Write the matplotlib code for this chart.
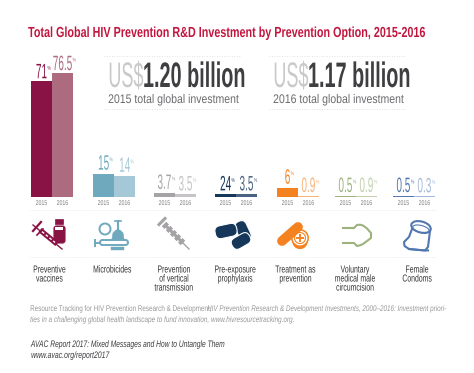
import matplotlib
matplotlib.use('Agg')
import matplotlib.pyplot as plt
from matplotlib.patches import Circle, Ellipse, FancyBboxPatch, Polygon, Rectangle
from matplotlib.patheffects import AbstractPathEffect
from matplotlib.text import Text
from matplotlib.transforms import Affine2D, Bbox

W, H = 474, 373
BASE_Y = 197.3
PX_PER_PCT = 1.63
BAR_W = 21
FONT = ['Liberation Sans', 'DejaVu Sans']

categories = ['Preventive\nvaccines', 'Microbicides', 'Prevention\nof vertical\ntransmission',
              'Pre-exposure\nprophylaxis', 'Treatment as\nprevention',
              'Voluntary\nmedical male\ncircumcision', 'Female\nCondoms']
# bar heights as they are drawn in the picture, not always what the label says
bars_2015 = [71.5, 14.5, 2.7, 1.8, 5.9, 0.8, 0.8]
bars_2016 = [76.5, 13.2, 1.8, 1.8, 0.8, 0.8, 0.6]
labels_2015 = ['71', '15', '3.7', '24', '6', '0.5', '0.5']
labels_2016 = ['76.5', '14', '3.5', '3.5', '0.9', '0.9', '0.3']
colors_2015 = ['#8a1346', '#6fa9bd', '#a5a3a6', '#14375a', '#f58220', '#9db27c', '#5277b0']
colors_2016 = ['#ad6b80', '#a5c8d6', '#c6c4c6', '#4a6380', '#f7b27a', '#c3d0ad', '#a6bbdb']
group_left = [31, 93, 154, 215, 277, 335, 393]
label_x = [49.5, 112, 174, 235, 295.5, 355, 417]


class Squeeze(AbstractPathEffect):
    # no condensed font installed, so squeeze the glyphs sideways
    def __init__(self, sx, ha):
        super().__init__()
        self.sx = sx
        self.ha = ha

    def draw_path(self, renderer, gc, tpath, affine, rgbFace=None):
        box = tpath.get_extents()
        mid = box.x0 if self.ha == 'left' else (box.x0 + box.x1) / 2
        tr = Affine2D().translate(-mid, 0).scale(self.sx, 1).translate(mid, 0)
        renderer.draw_path(gc, tpath, tr + affine, rgbFace)


class NarrowText(Text):
    def __init__(self, x, y, s, sx, **kw):
        self.sx = sx
        super().__init__(x, y, s, **kw)
        self.set_path_effects([Squeeze(sx, kw.get('ha', 'left'))])

    def get_window_extent(self, renderer=None, dpi=None):
        bb = super().get_window_extent(renderer, dpi)
        if self.get_ha() == 'left':
            return Bbox.from_extents(bb.x0, bb.y0, bb.x0 + bb.width * self.sx, bb.y1)
        mid = (bb.x0 + bb.x1) / 2
        return Bbox.from_extents(mid - bb.width * self.sx / 2, bb.y0, mid + bb.width * self.sx / 2, bb.y1)


def narrow(ax, x, y, s, sx=1.0, **kw):
    kw.setdefault('family', FONT)
    kw.setdefault('va', 'baseline')
    t = NarrowText(x, y, s, sx, clip_on=False, **kw)
    ax.add_artist(t)
    return t


fig = plt.figure(figsize=(W / 100, H / 100), dpi=100, facecolor='white')
rend = fig.canvas.get_renderer()

# pixel canvas for everything around the bars
ax = fig.add_axes([0, 0, 1, 1])
ax.set_xlim(0, W)
ax.set_ylim(H, 0)
ax.axis('off')

# bars live on their own axes: 0 at the baseline, in percent
bar_ax = fig.add_axes([0, 1 - BASE_Y / H, 1, BASE_Y / H])
bar_ax.set_xlim(0, W)
bar_ax.set_ylim(0, BASE_Y / PX_PER_PCT)
bar_ax.axis('off')
bar_ax.patch.set_alpha(0)

for i, left in enumerate(group_left):
    bar_ax.bar(left, bars_2015[i], BAR_W, align='edge', color=colors_2015[i])
    bar_ax.bar(left + BAR_W, bars_2016[i], BAR_W, align='edge', color=colors_2016[i])
    narrow(ax, left + 10.5, 205, '2015', sx=0.74, ha='center', fontsize=5, color='#7d7d80')
    narrow(ax, left + 31.5, 205, '2016', sx=0.74, ha='center', fontsize=5, color='#7d7d80')

    # value labels with the little % sign
    for lab, val, col, cx in ((labels_2015[i], bars_2015[i], colors_2015[i], left + 10.5),
                              (labels_2016[i], bars_2016[i], colors_2016[i], left + 31.5)):
        gap = 2.5 if val > 50 else 4
        ytext = BASE_Y - val * PX_PER_PCT - gap
        t = narrow(ax, cx, ytext, lab, sx=0.48, ha='center', fontsize=15, color=col)
        bb = t.get_window_extent(rend)
        narrow(ax, cx + bb.width / 2 + 0.3, ytext - 8.5, '%', sx=0.7, fontsize=4, color=col)

    narrow(ax, label_x[i], 264.5, categories[i], sx=0.68, ha='center', va='top', fontsize=7.3,
           color='#333336', fontweight='medium', linespacing=0.88, multialignment='center')

# title and the two totals
narrow(ax, 28, 37, 'Total Global HIV Prevention R&D Investment by Prevention Option, 2015-2016',
       sx=0.74, fontsize=10.5, fontweight='bold', color='#c2163f')

for x0, x_num, num, sub in ((107, 142, '1.20 billion', '2015 total global investment'),
                            (272, 307, '1.17 billion', '2016 total global investment')):
    narrow(ax, x0, 87, 'US$', sx=0.51, fontsize=25.5, color='#c9c9cb')
    narrow(ax, x_num, 87, num, sx=0.56, fontsize=25.5, color='#3f3f42', fontweight='bold')
    narrow(ax, x0 + 1, 103, sub, sx=0.84, fontsize=9, color='#6b6b6e')
    for y in (56, 109):
        ax.plot([x0 - 3, x0 + 133], [y, y], color='#d8d8d8', lw=0.6, ls=(0, (1, 2)))

# dotted rules above and below the icons
for y in (210, 257):
    ax.plot([29, 436], [y, y], color='#e0e0e0', lw=0.6, ls=(0, (1, 2)))

# icons, one by one
c = colors_2015[0]
ax.plot([33, 62], [225, 249], color=c, lw=1.0)
ax.plot([40, 57], [230, 244], color=c, lw=3.8, solid_capstyle='butt')
ax.plot([42, 55], [231.6, 242.5], color='white', lw=1.0, ls=(0, (2, 1.5)))
ax.plot([33, 41], [231, 222], color=c, lw=1.6)
ax.plot([37, 43], [235, 229], color=c, lw=1.2)
ax.add_patch(FancyBboxPatch((54, 226), 11, 17, boxstyle='round,pad=0,rounding_size=2.5', fc=c, ec=c, lw=0.8))
ax.add_patch(Rectangle((55.5, 226.5), 8, 3.5, fc='white', ec='none'))
ax.add_patch(Rectangle((55, 219), 8.5, 5, fc=c, ec=c, lw=0.5))

c = colors_2015[1]
ax.add_patch(Circle((105, 229), 5.5, fc='none', ec=c, lw=1.4))
ax.add_patch(FancyBboxPatch((100, 240), 28, 5, boxstyle='round,pad=0,rounding_size=2.5', fc='white', ec=c, lw=1.4))
ax.plot([95, 100], [242.5, 242.5], color=c, lw=1.4)
ax.plot([95, 95], [239.5, 245.5], color=c, lw=1.4)
ax.add_patch(Polygon([[112, 239], [113, 233], [116, 230], [120, 230], [123, 233], [124, 239]], fc=c, ec=c, lw=0.4))
ax.plot([118, 118], [221, 231], color=c, lw=1.5)
ax.plot([115, 121], [221, 221], color=c, lw=1.2)
ax.add_patch(Rectangle((111, 246.5), 13, 3, fc=c, ec=c, lw=0.3))

c = colors_2015[2]
ax.plot([165, 183], [225, 243], color=c, lw=2.2, solid_capstyle='butt')
ax.plot([164, 183], [224, 243], color=c, lw=4.6, ls=(0, (0.6, 0.3)))
ax.plot([183, 189], [243, 249], color=c, lw=1.0)
ax.plot([159, 165], [224.5, 218.5], color=c, lw=2.2)

c = colors_2015[3]
for cx, cy, w, h, ang in ((243, 231, 21, 12, 65), (226, 231, 22, 13, -12), (241, 241, 20, 12, -30)):
    ax.add_patch(FancyBboxPatch((cx - w / 2, cy - h / 2), w, h, boxstyle='round,pad=0,rounding_size=5.5',
                                fc=c, ec='white', lw=0.8,
                                transform=Affine2D().rotate_deg_around(cx, cy, ang) + ax.transData))

c = colors_2015[4]
ax.plot([282, 298], [241, 227], color=c, lw=7, solid_capstyle='round')
ax.add_patch(Circle((300, 241.5), 8.2, fc=c, ec='white', lw=0.8))
ax.add_patch(Circle((300, 238), 8.2, fc='white', ec=c, lw=1.1))
ax.add_patch(Circle((300, 238), 5.5, fc='white', ec=c, lw=0.8))
ax.plot([297, 303], [238, 238], color=c, lw=1.4)
ax.plot([300, 300], [235, 241], color=c, lw=1.4)

c = colors_2015[5]
ax.plot([343, 354, 357, 360, 363, 367, 371, 371, 367, 363, 360, 357, 354, 343],
        [228, 228, 225, 224.7, 225.5, 228.5, 233, 238, 241, 244, 245.3, 246, 243, 243],
        color=c, lw=1.5, solid_joinstyle='round')

c = colors_2015[6]
ax.plot([412, 409, 404, 404.5, 409, 425, 428, 430],
        [229, 237, 242, 246, 249, 250.5, 247, 231], color=c, lw=1.5, solid_joinstyle='round')
ax.plot([409, 419, 428], [249, 250, 250.5], color=c, lw=1.5)
ax.add_patch(Ellipse((421, 227), 20, 11, angle=15, fc='none', ec=c, lw=1.5))
ax.add_patch(Ellipse((421, 229), 17, 7, angle=15, fc='none', ec=c, lw=0.8))

# source block
src_kw = dict(fontsize=5.9, color='#98989b')
narrow(ax, 30, 311, 'Resource Tracking for HIV Prevention Research & Development,', sx=0.77, **src_kw)
narrow(ax, 207, 311, 'HIV Prevention Research & Development Investments, 2000–2016: Investment priori-',
       sx=0.77, fontstyle='italic', **src_kw)
narrow(ax, 30, 322, 'ties in a challenging global health landscape to fund innovation, www.hivresourcetracking.org.',
       sx=0.78, fontstyle='italic', **src_kw)
narrow(ax, 31, 347, 'AVAC Report 2017: Mixed Messages and How to Untangle Them', sx=0.71,
       fontsize=6.8, fontstyle='italic', color='#3c3c40')
narrow(ax, 31, 358, 'www.avac.org/report2017', sx=0.73, fontsize=6.8, fontstyle='italic', color='#3c3c40')

fig.savefig('out.png', dpi=100)
